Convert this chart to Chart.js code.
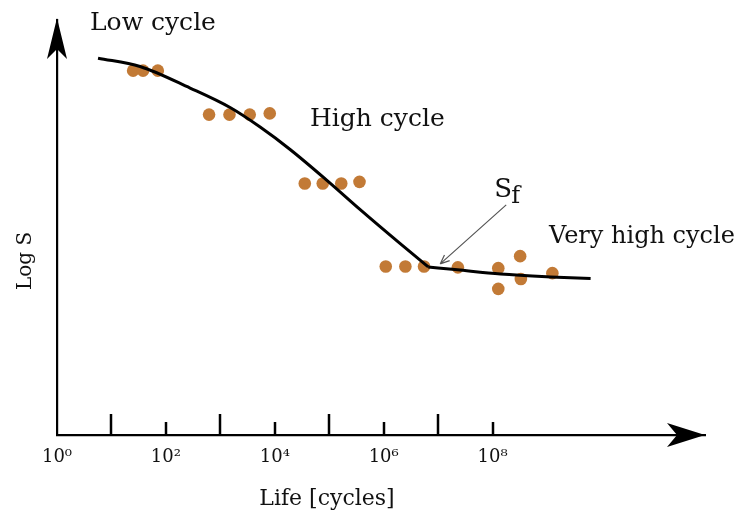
<!DOCTYPE html>
<html>
<head>
<meta charset="utf-8">
<script src="https://cdn.jsdelivr.net/npm/chart.js@4.4.0/dist/chart.umd.min.js"></script>
<style>
  html, body { margin: 0; padding: 0; background: #fff; }
  #snChart { display: block; }
</style>
</head>
<body>
<canvas id="snChart" width="745" height="517"></canvas>
<script>
// --- DATA ---
// fatigue test results: life in cycles vs. log stress amplitude (arbitrary units)
const testLife = [25, 38, 71,
                  620, 1470, 3460, 8070,
                  35500, 75900, 166000, 359000,
                  1.09e6, 2.5e6, 5.5e6, 2.3e7, 1.27e8, 1.27e8, 3.2e8, 3.3e8, 1.25e9];
const testLogS = [87.8, 87.8, 87.8,
                  77.2, 77.2, 77.2, 77.5,
                  60.6, 60.6, 60.6, 61.0,
                  40.6, 40.6, 40.6, 40.4, 40.2, 35.2, 43.1, 37.6, 39.0];

// S-N curve, finite life branch ending at the fatigue limit Sf
const curveLife = [5.67, 33.5, 278, 1510, 5370, 19100, 91600, 370000, 2.01e6, 6.56e6];
const curveLogS = [90.8, 88.8, 83.6, 78.9, 74.2, 68.8, 61.3, 54.3, 46.1, 40.5];

// endurance branch past the fatigue limit
const tailLife = [6.56e6, 2.27e7, 1.4e8, 1.16e9, 6.3e9];
const tailLogS = [40.5, 39.8, 38.8, 38.1, 37.7];

// decades on the life axis, every second one labelled
const decades = [0, 1, 2, 3, 4, 5, 6, 7, 8];
const decadeLabels = ['10⁰', '', '10²', '', '10⁴', '', '10⁶', '', '10⁸'];

const FONT = '"DejaVu Serif", serif';
const INK = '#111';

const toPoints = (xs, ys) => xs.map((v, i) => ({ x: v, y: ys[i] }));

// axis arrows, decade tick marks, axis names, region names and the Sf pointer
const decor = {
  id: 'decor',
  afterDatasetsDraw(chart) {
    const { ctx, chartArea: a, scales: { x, y } } = chart;
    ctx.save();

    ctx.strokeStyle = '#000';
    ctx.lineWidth = 2.5;
    decades.forEach(e => {
      if (e === 0) return;
      const px = Math.round(x.getPixelForValue(10 ** e));
      const len = e % 2 ? 21 : 13;
      ctx.beginPath();
      ctx.moveTo(px, a.bottom);
      ctx.lineTo(px, a.bottom - len);
      ctx.stroke();
    });

    ctx.fillStyle = '#000';
    // up arrow on Log S
    ctx.beginPath();
    ctx.moveTo(a.left, a.top - 2);
    ctx.lineTo(a.left + 10, a.top + 39);
    ctx.lineTo(a.left, a.top + 29);
    ctx.lineTo(a.left - 10, a.top + 39);
    ctx.closePath();
    ctx.fill();
    // right arrow on life
    ctx.beginPath();
    ctx.moveTo(a.right, a.bottom);
    ctx.lineTo(a.right - 38, a.bottom - 12);
    ctx.lineTo(a.right - 28, a.bottom);
    ctx.lineTo(a.right - 38, a.bottom + 12);
    ctx.closePath();
    ctx.fill();

    ctx.fillStyle = INK;
    ctx.textBaseline = 'alphabetic';

    // axis names
    ctx.font = '22px ' + FONT;
    ctx.textAlign = 'center';
    ctx.fillText('Life [cycles]', 327, 505);
    ctx.save();
    ctx.translate(31, 261);
    ctx.rotate(-Math.PI / 2);
    ctx.font = '20px ' + FONT;
    ctx.fillText('Log S', 0, 0);
    ctx.restore();

    ctx.textAlign = 'left';
    ctx.font = '25px ' + FONT;
    ctx.fillText('Low cycle', 90, 30);
    ctx.fillText('High cycle', 310, 126);
    ctx.font = '24px ' + FONT;
    ctx.fillText('Very high cycle', 549, 243);

    // Sf pointer to the knee of the curve
    const n = curveLife.length - 1;
    const kx = x.getPixelForValue(curveLife[n]);
    const ky = y.getPixelForValue(curveLogS[n]);
    const tx = kx + 12, ty = ky - 3;
    const sx = kx + 78, sy = ky - 62;
    ctx.strokeStyle = '#555';
    ctx.lineWidth = 1.2;
    ctx.beginPath();
    ctx.moveTo(sx, sy);
    ctx.lineTo(tx, ty);
    const ang = Math.atan2(ty - sy, tx - sx);
    [0.4, -0.4].forEach(d => {
      ctx.moveTo(tx, ty);
      ctx.lineTo(tx - 10 * Math.cos(ang + d), ty - 10 * Math.sin(ang + d));
    });
    ctx.stroke();

    ctx.font = '26px ' + FONT;
    ctx.fillText('S', sx - 12, sy - 8);
    ctx.font = '24px ' + FONT;
    ctx.fillText('f', sx + 5, sy - 2);

    ctx.restore();
  }
};

new Chart(document.getElementById('snChart'), {
  type: 'scatter',
  data: {
    datasets: [{
      type: 'line',
      data: toPoints(curveLife, curveLogS),
      borderColor: '#000',
      borderWidth: 3,
      pointRadius: 0,
      cubicInterpolationMode: 'monotone',
      fill: false,
      order: 0
    }, {
      type: 'line',
      data: toPoints(tailLife, tailLogS),
      borderColor: '#000',
      borderWidth: 3,
      pointRadius: 0,
      cubicInterpolationMode: 'monotone',
      fill: false,
      order: 0
    }, {
      data: toPoints(testLife, testLogS),
      backgroundColor: '#c27a36',
      borderWidth: 0,
      pointRadius: 6.3,
      order: 1
    }]
  },
  options: {
    responsive: false,
    devicePixelRatio: 1,
    animation: false,
    layout: { padding: { left: 0, right: 40, top: 20, bottom: 0 } },
    plugins: { legend: { display: false }, tooltip: { enabled: false } },
    scales: {
      x: {
        type: 'logarithmic',
        min: 1,
        max: 10 ** 11.9,
        afterBuildTicks: s => { s.ticks = decades.map(e => ({ value: 10 ** e })); },
        afterFit: s => { s.height = 82; },
        ticks: {
          callback: (v, i) => decadeLabels[i],
          autoSkip: false,
          maxRotation: 0,
          padding: 12,
          color: INK,
          font: { family: FONT, size: 18 }
        },
        grid: { display: false, drawTicks: false },
        border: { display: true, color: '#000', width: 2.2 }
      },
      y: {
        min: 0,
        max: 100,
        afterFit: s => { s.width = 57; },
        ticks: { display: false },
        grid: { display: false, drawTicks: false },
        border: { display: true, color: '#000', width: 2.2 }
      }
    }
  },
  plugins: [decor]
});
</script>
</body>
</html>
